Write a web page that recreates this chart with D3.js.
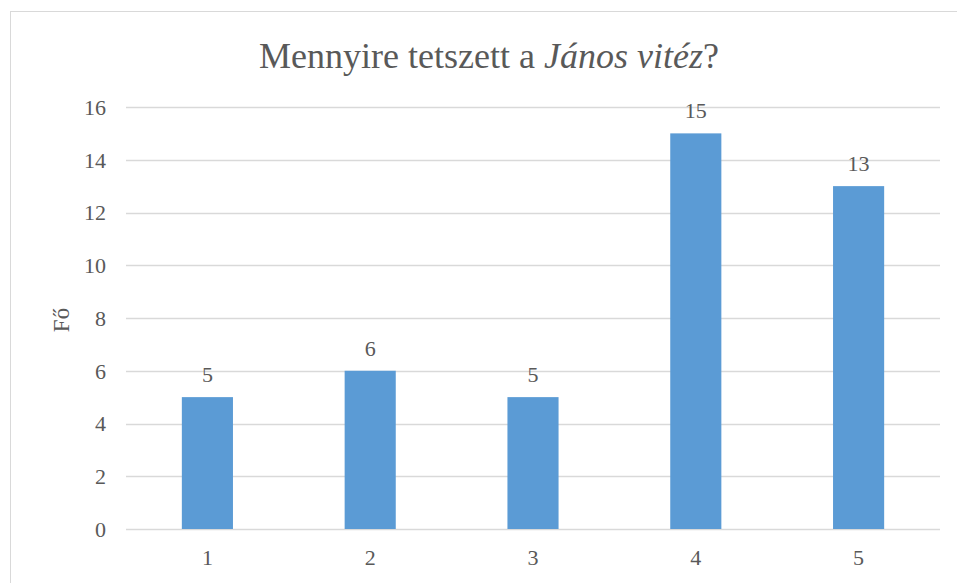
<!DOCTYPE html>
<html>
<head>
<meta charset="utf-8">
<script src="https://cdn.jsdelivr.net/npm/d3@7"></script>
<style>
  body { margin: 0; background: #fff; }
</style>
</head>
<body>
<div id="showBox"></div>
<script>
const categories = ["1", "2", "3", "4", "5"];
const values = [5, 6, 5, 15, 13];
const yTicks = [0, 2, 4, 6, 8, 10, 12, 14, 16];

const width = 957, height = 583;
const svg = d3.select("#showBox").append("svg")
    .attr("width", width)
    .attr("height", height)
    .attr("font-family", "'Liberation Serif', 'Times New Roman', serif")
    .attr("fill", "#595959");

// chart area border
svg.append("rect")
    .attr("x", 10.5).attr("y", 11.5)
    .attr("width", 960).attr("height", 600)
    .attr("fill", "none")
    .attr("stroke", "#d9d9d9")
    .attr("stroke-width", 1);

const x = d3.scaleBand()
    .domain(categories)
    .range([126, 940])
    .paddingInner(0.686)
    .paddingOuter(0.343);

const y = d3.scaleLinear()
    .domain([0, 16])
    .range([529, 107]);

// gridlines
svg.append("g")
    .selectAll("line")
    .data(yTicks)
    .join("line")
    .attr("x1", 126).attr("x2", 940)
    .attr("y1", d => Math.round(y(d)) + 0.5)
    .attr("y2", d => Math.round(y(d)) + 0.5)
    .attr("stroke", "#d9d9d9")
    .attr("stroke-width", 1.3);

// y tick labels
svg.append("g")
    .selectAll("text")
    .data(yTicks)
    .join("text")
    .attr("x", 106)
    .attr("y", d => y(d))
    .attr("dy", "0.36em")
    .attr("text-anchor", "end")
    .attr("font-size", 22)
    .text(d => d);

// bars
svg.append("g")
    .selectAll("rect")
    .data(values)
    .join("rect")
    .attr("x", (d, i) => x(categories[i]))
    .attr("width", x.bandwidth())
    .attr("y", d => y(d))
    .attr("height", d => y(0) - y(d))
    .attr("fill", "#5b9bd5");

// value labels
svg.append("g")
    .selectAll("text")
    .data(values)
    .join("text")
    .attr("x", (d, i) => x(categories[i]) + x.bandwidth() / 2)
    .attr("y", d => y(d) - 15)
    .attr("text-anchor", "middle")
    .attr("font-size", 22)
    .text(d => d);

// x tick labels
svg.append("g")
    .selectAll("text")
    .data(categories)
    .join("text")
    .attr("x", d => x(d) + x.bandwidth() / 2)
    .attr("y", 565)
    .attr("text-anchor", "middle")
    .attr("font-size", 22)
    .text(d => d);

// y axis title
svg.append("text")
    .attr("transform", "translate(69,320) rotate(-90)")
    .attr("text-anchor", "middle")
    .attr("font-size", 23)
    .text("Fő");

// chart title
const title = svg.append("text")
    .attr("x", 489)
    .attr("y", 68)
    .attr("text-anchor", "middle")
    .attr("font-size", 36);
title.append("tspan").text("Mennyire tetszett a ");
title.append("tspan").attr("font-style", "italic").text("János vitéz");
title.append("tspan").text("?");
</script>
</body>
</html>
